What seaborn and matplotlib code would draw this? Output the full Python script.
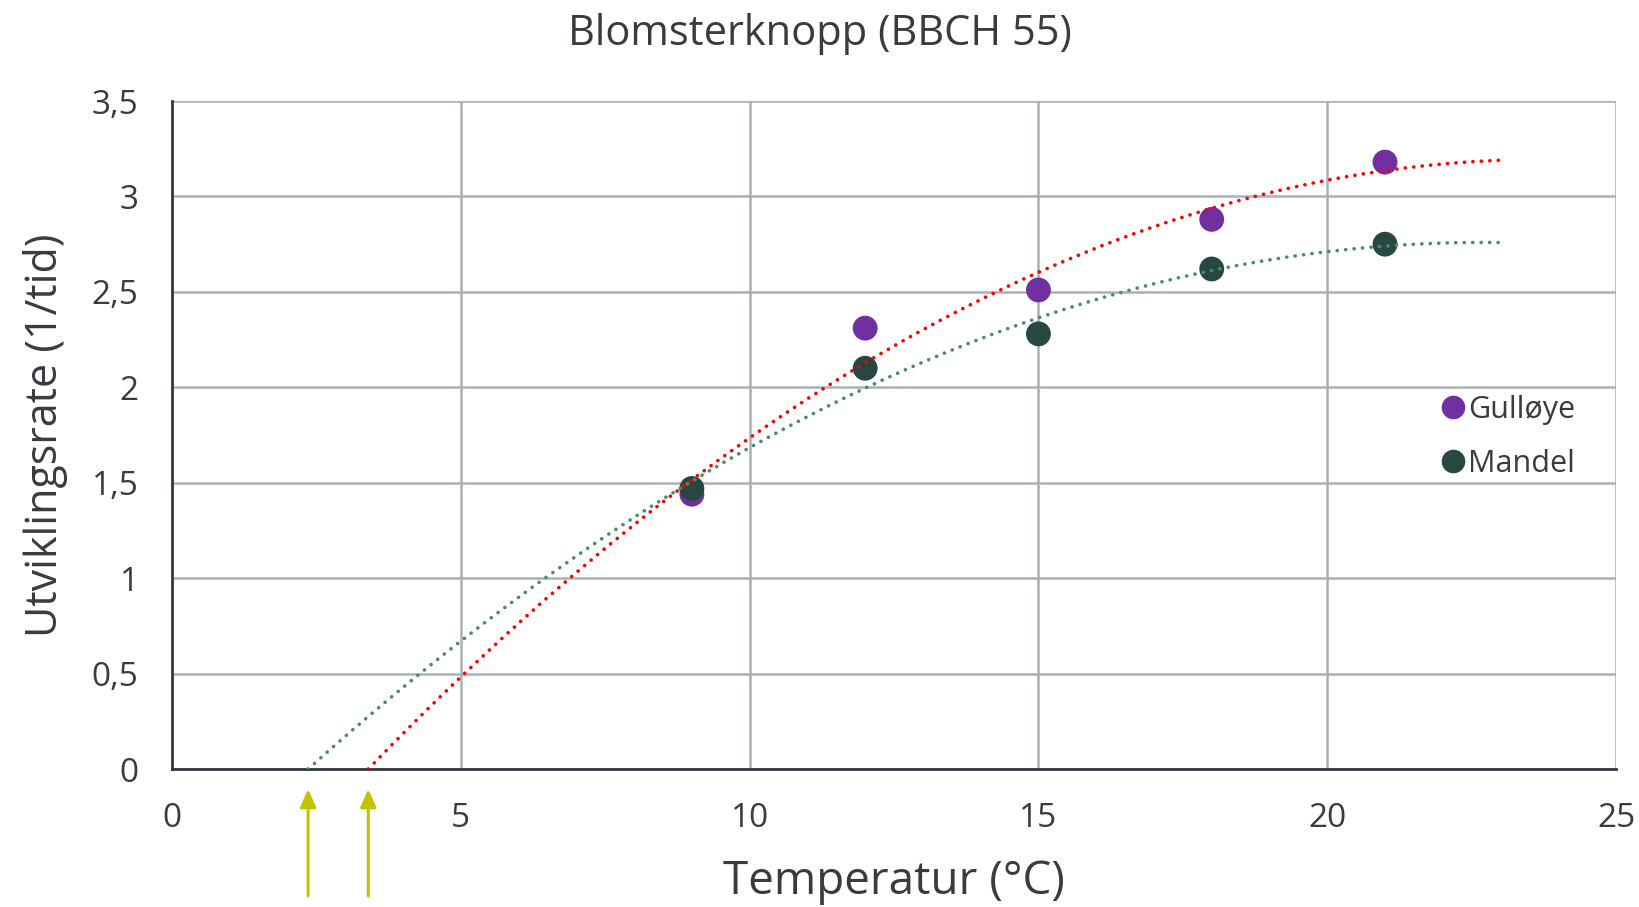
import numpy as np
import pandas as pd
import matplotlib
matplotlib.use("Agg")
import matplotlib.pyplot as plt
import seaborn as sns

# Measured development rates per temperature
temperatures = [9, 12, 15, 18, 21]
rate_gulloye = [1.44, 2.31, 2.51, 2.88, 3.18]
rate_mandel = [1.47, 2.10, 2.28, 2.62, 2.75]
cultivars = ["Gulløye", "Mandel"]
y_ticks = [0, 0.5, 1, 1.5, 2, 2.5, 3, 3.5]
x_ticks = [0, 5, 10, 15, 20, 25]
trend_end = 23

sns.set_theme(style="white")
plt.rcParams["font.family"] = ["Open Sans", "DejaVu Sans"]

df = pd.DataFrame({
    "Temperatur": temperatures * 2,
    "Rate": rate_gulloye + rate_mandel,
    "Sort": [cultivars[0]] * len(temperatures) + [cultivars[1]] * len(temperatures),
})

point_colors = {"Gulløye": "#7030A0", "Mandel": "#274842"}
trend_colors = {"Gulløye": "#FF0000", "Mandel": "#4E8A72"}
text_color = "#383C40"

fig = plt.figure(figsize=(16.4, 9.07), dpi=100)
ax = fig.add_axes([0.1049, 0.1521, 0.8805, 0.7365])

sns.scatterplot(data=df, x="Temperatur", y="Rate", hue="Sort", palette=point_colors,
                s=320, edgecolor="none", ax=ax, zorder=3)

# Second-order polynomial trend lines, extended back to the zero crossing
roots = {}
for name, rates in zip(cultivars, [rate_gulloye, rate_mandel]):
    coef = np.polyfit(temperatures, rates, 2)
    r = np.roots(coef)
    r = r[np.isreal(r)].real
    x0 = r[r < min(temperatures)].max()
    roots[name] = x0
    xs = np.linspace(x0, trend_end, 300)
    trend = pd.DataFrame({"Temperatur": xs, "Rate": np.polyval(coef, xs)})
    sns.lineplot(data=trend, x="Temperatur", y="Rate", color=trend_colors[name],
                 linewidth=2.6, linestyle=(0, (0.05, 2.3)), dash_capstyle="round",
                 ax=ax, zorder=4, legend=False)

# Arrows marking the base temperatures under the x axis
for name in cultivars:
    ax.annotate("", xy=(roots[name], -0.03), xytext=(roots[name], -0.19),
                xycoords=ax.get_xaxis_transform(), textcoords=ax.get_xaxis_transform(),
                arrowprops=dict(arrowstyle="-|>,head_length=0.9,head_width=0.4",
                                color="#C2C300", lw=2.2, shrinkA=0, shrinkB=0),
                annotation_clip=False)

ax.set_xlim(0, 25)
ax.set_ylim(0, 3.5)
ax.set_xticks(x_ticks)
ax.set_yticks(y_ticks)
ax.set_xticklabels([str(v) for v in x_ticks])
ax.set_yticklabels([f"{v:g}".replace(".", ",") for v in y_ticks])
ax.tick_params(axis="both", length=0, labelsize=24, colors=text_color, pad=24)
ax.grid(True, color="#A9B0B7", linewidth=1.8)
ax.set_axisbelow(True)
for side in ["top", "right"]:
    ax.spines[side].set_visible(False)
for side in ["left", "bottom"]:
    ax.spines[side].set_color("#333840")
    ax.spines[side].set_linewidth(2)
    ax.spines[side].set_zorder(2)

ax.set_xlabel("Temperatur (°C)", fontsize=33, color=text_color, labelpad=17)
ax.set_ylabel("Utviklingsrate (1/tid)", fontsize=31, color=text_color, labelpad=17)
fig.text(0.5, 0.962, "Blomsterknopp (BBCH 55)", fontsize=30, color=text_color,
         ha="center", va="center")

leg = ax.legend(title=None, loc="center left", bbox_to_anchor=(0.847, 0.497),
                frameon=False, fontsize=22, handletextpad=-0.5, labelspacing=0.78,
                markerscale=0.95)
for t in leg.get_texts():
    t.set_color(text_color)

fig.savefig("out.png", dpi=100)
